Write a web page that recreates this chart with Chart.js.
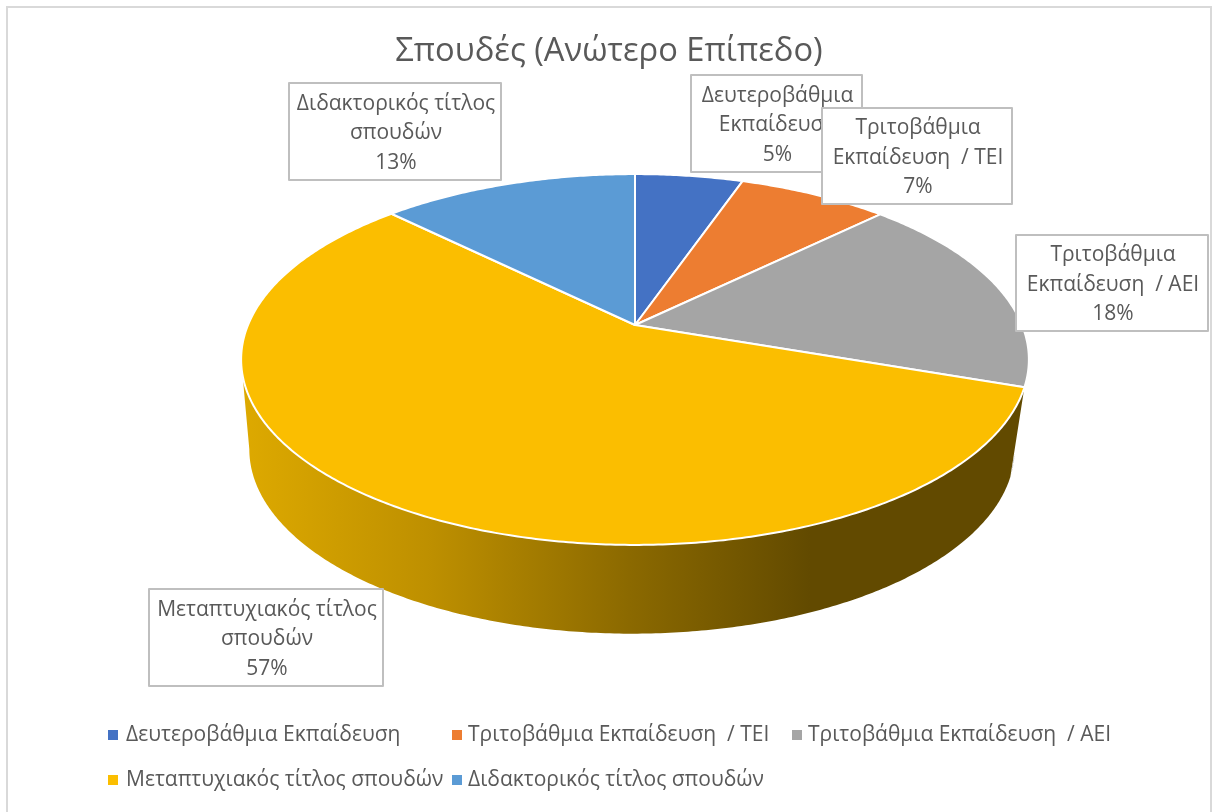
<!DOCTYPE html>
<html lang="el">
<head>
<meta charset="utf-8">
<title>Σπουδές (Ανώτερο Επίπεδο)</title>
<script src="https://cdn.jsdelivr.net/npm/chart.js@4"></script>
<style>
html,body{margin:0;padding:0;background:#fff;overflow:hidden}
canvas{display:block}
</style>
</head>
<body>
<canvas id="c" width="1213" height="812"></canvas>
<script>
const chartTitle = 'Σπουδές (Ανώτερο Επίπεδο)';
const categories = [
  'Δευτεροβάθμια Εκπαίδευση',
  'Τριτοβάθμια Εκπαίδευση  / ΤΕΙ',
  'Τριτοβάθμια Εκπαίδευση  / ΑΕΙ',
  'Μεταπτυχιακός τίτλος σπουδών',
  'Διδακτορικός τίτλος σπουδών'
];
const values = [5.3, 7.4, 17.6, 57.1, 12.6];
const colors = ['#4472C4', '#ED7D31', '#A5A5A5', '#FBBE00', '#5B9BD5'];
const labelLines = [
  ['Δευτεροβάθμια', 'Εκπαίδευση'],
  ['Τριτοβάθμια', 'Εκπαίδευση  / ΤΕΙ'],
  ['Τριτοβάθμια', 'Εκπαίδευση  / ΑΕΙ'],
  ['Μεταπτυχιακός τίτλος', 'σπουδών'],
  ['Διδακτορικός τίτλος', 'σπουδών']
];
const FONT = '"Open Sans", sans-serif';
const TEXT = '#595959';

// Perspective mapping of the unit circle on to the disc of the pie
const topRim = {cx: 635, cy: 325, rx: 387, ry: 179, k: 0.186};
const botRim = {cx: 632, cy: 415, rx: 376, ry: 178, k: 0.186};
function project(r, X, Y) {
  const w = 1 - r.k * Y;
  return [r.cx + r.rx * X / w, r.cy + r.ry * Y / w];
}
function rim(r, a) { return project(r, Math.cos(a), Math.sin(a)); }
function samples(a0, a1) {
  const n = Math.max(2, Math.ceil(Math.abs(a1 - a0) / 0.01));
  const out = [];
  for (let i = 0; i <= n; i++) out.push(a0 + (a1 - a0) * i / n);
  return out;
}

const pie3d = {
  id: 'pie3d',
  beforeDatasetDraw(chart, args) {
    const ctx = chart.ctx;
    const arcs = chart.getDatasetMeta(args.index).data;
    const lowLimit = Math.asin(topRim.k);
    const frontA = lowLimit, frontB = Math.PI - lowLimit;

    // walls: only the part of each slice that faces the viewer
    arcs.forEach((arc, i) => {
      const a0 = Math.max(arc.startAngle, frontA);
      const a1 = Math.min(arc.endAngle, frontB);
      if (a1 <= a0) return;
      const as = samples(a0, a1);
      ctx.beginPath();
      as.forEach((a, j) => {
        const p = rim(topRim, a);
        j ? ctx.lineTo(p[0], p[1]) : ctx.moveTo(p[0], p[1]);
      });
      as.slice().reverse().forEach(a => {
        const p = rim(botRim, a);
        ctx.lineTo(p[0], p[1]);
      });
      ctx.closePath();
      if (i === 3) {
        const g = ctx.createLinearGradient(245, 0, 1030, 0);
        g.addColorStop(0, '#DDA900');
        g.addColorStop(0.24, '#BD8F00');
        g.addColorStop(0.49, '#8B6900');
        g.addColorStop(0.72, '#624A00');
        g.addColorStop(1, '#624A00');
        ctx.fillStyle = g;
        ctx.fill();
      } else {
        ctx.fillStyle = '#4A4A4A';
        ctx.fill();
        ctx.strokeStyle = '#FFFFFF';
        ctx.lineWidth = 1;
        ctx.stroke();
      }
    });

    // top faces
    arcs.forEach((arc, i) => {
      ctx.beginPath();
      ctx.moveTo(topRim.cx, topRim.cy);
      samples(arc.startAngle, arc.endAngle).forEach(a => {
        const p = rim(topRim, a);
        ctx.lineTo(p[0], p[1]);
      });
      ctx.closePath();
      ctx.fillStyle = arc.options.backgroundColor;
      ctx.fill();
      ctx.strokeStyle = '#FFFFFF';
      ctx.lineWidth = 2;
      ctx.lineJoin = 'round';
      ctx.stroke();
    });
    return false;
  }
};

const frame = {
  id: 'frame',
  beforeDraw(chart) {
    const ctx = chart.ctx;
    ctx.save();
    ctx.fillStyle = '#FFFFFF';
    ctx.fillRect(0, 0, chart.width, chart.height);
    ctx.strokeStyle = '#D9D9D9';
    ctx.lineWidth = 2;
    ctx.strokeRect(7, 7, 1204, 900);
    ctx.restore();
  }
};

// data labels and legend
const boxes = [[691, 75, 171, 97], [822, 108, 190, 96], [1016, 235, 192, 96], [149, 589, 234, 97], [289, 83, 212, 97]];
const legendSpots = [[108, 735, 18], [452, 735, 16], [792, 735, 16], [108, 780, 18], [452, 780, 16]];
const annotate = {
  id: 'annotate',
  afterDatasetsDraw(chart) {
    const ctx = chart.ctx;
    const vals = chart.data.datasets[0].data;
    const sum = vals.reduce((a, b) => a + b, 0);
    ctx.save();
    ctx.textBaseline = 'middle';
    [4, 3, 0, 1, 2].forEach(i => {
      const b = boxes[i];
      ctx.fillStyle = '#FFFFFF';
      ctx.fillRect(b[0], b[1], b[2], b[3]);
      ctx.strokeStyle = '#BFBFBF';
      ctx.lineWidth = 2;
      ctx.strokeRect(b[0], b[1], b[2], b[3]);
      ctx.fillStyle = TEXT;
      ctx.font = '21px ' + FONT;
      ctx.textAlign = 'center';
      const lines = labelLines[i].concat(Math.round(vals[i] / sum * 100) + '%');
      lines.forEach((t, j) => {
        ctx.fillText(t, b[0] + b[2] / 2 + 1, b[1] + b[3] / 2 + 2 + (j - 1) * 29.5);
      });
    });
    ctx.textAlign = 'left';
    ctx.font = '21px ' + FONT;
    chart.data.labels.forEach((t, i) => {
      const s = legendSpots[i];
      ctx.fillStyle = colors[i];
      ctx.fillRect(s[0], s[1] - 5, 10, 10);
      ctx.fillStyle = TEXT;
      ctx.fillText(t, s[0] + s[2], s[1]);
    });
    ctx.restore();
  }
};

new Chart(document.getElementById('c'), {
  type: 'pie',
  data: {
    labels: categories,
    datasets: [{data: values, backgroundColor: colors, borderColor: '#FFFFFF', borderWidth: 1.5}]
  },
  options: {
    responsive: false,
    animation: false,
    events: [],
    layout: {padding: {left: 5}},
    plugins: {
      legend: {display: false},
      tooltip: {enabled: false},
      title: {
        display: true,
        text: chartTitle,
        color: TEXT,
        fullSize: false,
        font: {family: FONT, size: 32.7, weight: 'normal', lineHeight: 1},
        padding: {top: 35, bottom: 0}
      }
    }
  },
  plugins: [frame, pie3d, annotate]
});
</script>
</body>
</html>
